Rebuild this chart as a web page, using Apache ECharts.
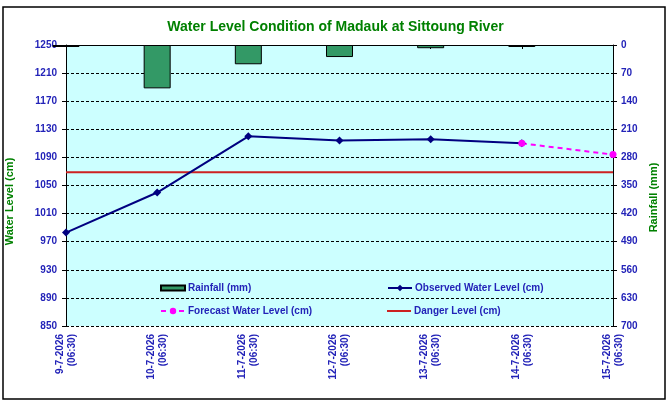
<!DOCTYPE html>
<html>
<head>
<meta charset="utf-8">
<title>Water Level Condition of Madauk at Sittoung River</title>
<script src="https://cdn.jsdelivr.net/npm/echarts@6/dist/echarts.min.js"></script>
<style>
	html, body { margin: 0; padding: 0; background: #ffffff; }
	#wl_chart { width: 671px; height: 405px; }
</style>
</head>
<body>
<div id="wl_chart"></div>
<script>
// chart data
var categories = [ '9-7-2026\n(06:30)', '10-7-2026\n(06:30)', '11-7-2026\n(06:30)',
		'12-7-2026\n(06:30)', '13-7-2026\n(06:30)', '14-7-2026\n(06:30)', '15-7-2026\n(06:30)' ];
var rainfall = [ 5, 108, 48, 30, 8, 5, null ];
var observedLevel = [ 983, 1040, 1120, 1114, 1116, 1110, null ];
var forecastLevel = [ null, null, null, null, null, 1110, 1094 ];
var dangerLevel = [ 1069, 1069, 1069, 1069, 1069, 1069, 1069 ];
var levelTicks = [ 850, 890, 930, 970, 1010, 1050, 1090, 1130, 1170, 1210, 1250 ];

var labelBlue = '#2323b8';
var nameGreen = '#008000';
var fontName = 'Liberation Sans, Arial, sans-serif';

var wlChart = {
	legendItem : function(name, left, top, h, icon) {
		var item = {
			data : [ name ],
			left : left,
			top : top,
			itemWidth : 24,
			itemHeight : h,
			itemGap : 0,
			selectedMode : false,
			textStyle : {
				color : labelBlue,
				fontWeight : 'bold',
				fontSize : 10,
				fontFamily : fontName,
				padding : [ 0, 0, 0, -2 ]
			}
		};
		if (icon) {
			item.icon = icon;
		}
		return item;
	},

	build : function() {
		var chart = echarts.init(document.getElementById('wl_chart'), null, {
			renderer : 'canvas'
		});
		chart.setOption({
			backgroundColor : '#ffffff',
			animation : false,
			title : {
				text : 'Water Level Condition of Madauk at Sittoung River',
				left : 'center',
				top : 15,
				textStyle : {
					color : nameGreen,
					fontSize : 14,
					fontWeight : 'bold',
					fontFamily : fontName
				}
			},
			legend : [
				this.legendItem('Rainfall (mm)', 155, 278, 5, 'rect'),
				this.legendItem('Observed Water Level (cm)', 382, 278, 8),
				this.legendItem('Forecast Water Level (cm)', 155, 301, 8),
				this.legendItem('Danger Level (cm)', 382, 301, 2, 'rect')
			],
			grid : {
				left : 66,
				right : 58,
				top : 45,
				bottom : 79,
				outerBoundsMode : 'none',
				containLabel : false,
				show : true,
				backgroundColor : '#ccffff',
				borderWidth : 0
			},
			xAxis : {
				type : 'category',
				data : categories,
				boundaryGap : false,
				axisLine : {
					lineStyle : { color : '#000000', width : 1 }
				},
				axisTick : {
					show : true,
					length : 4,
					lineStyle : { color : '#000000' }
				},
				axisLabel : {
					rotate : 90,
					margin : 8,
					interval : 0,
					color : labelBlue,
					fontSize : 10,
					fontWeight : 'bold',
					fontFamily : fontName,
					lineHeight : 12
				},
				splitLine : { show : false }
			},
			yAxis : [ {
				// water level (left)
				type : 'value',
				position : 'left',
				min : 850,
				max : 1250,
				name : 'Water Level (cm)',
				nameLocation : 'middle',
				nameRotate : 90,
				nameGap : 51,
				nameTextStyle : {
					color : nameGreen,
					fontWeight : 'bold',
					fontSize : 11,
					fontFamily : fontName,
					padding : [ 0, 32, 0, 0 ]
				},
				axisLine : {
					show : true,
					lineStyle : { color : '#000000' }
				},
				axisTick : {
					show : true,
					length : 4,
					customValues : levelTicks,
					lineStyle : { color : '#000000' }
				},
				axisLabel : {
					customValues : levelTicks,
					margin : 9,
					color : labelBlue,
					fontSize : 10,
					fontWeight : 'bold',
					fontFamily : fontName,
					formatter : function(v) {
						return String(v);
					}
				},
				splitLine : { show : false }
			}, {
				// rainfall (right, hanging from top)
				type : 'value',
				position : 'right',
				inverse : true,
				min : 0,
				max : 700,
				interval : 70,
				name : 'Rainfall (mm)',
				nameLocation : 'middle',
				nameRotate : 90,
				nameGap : 33,
				nameTextStyle : {
					color : nameGreen,
					fontWeight : 'bold',
					fontSize : 11,
					fontFamily : fontName,
					padding : [ 0, 24, 0, 0 ]
				},
				axisLine : {
					show : true,
					lineStyle : { color : '#000000' }
				},
				axisTick : {
					show : true,
					length : 4,
					lineStyle : { color : '#000000' }
				},
				axisLabel : {
					margin : 8,
					color : labelBlue,
					fontSize : 10,
					fontWeight : 'bold',
					fontFamily : fontName
				},
				splitLine : {
					show : true,
					lineStyle : { color : '#000000', type : [ 3, 2 ], width : 1 }
				}
			} ],
			series : [ {
				name : 'Rainfall (mm)',
				type : 'bar',
				yAxisIndex : 1,
				barWidth : 27,
				clip : true,
				itemStyle : {
					color : '#339966',
					borderColor : '#000000',
					borderWidth : 1
				},
				data : rainfall
			}, {
				name : 'Danger Level (cm)',
				type : 'line',
				yAxisIndex : 0,
				symbol : 'none',
				lineStyle : { color : '#cc2222', width : 2 },
				itemStyle : { color : '#cc2222' },
				data : dangerLevel
			}, {
				name : 'Observed Water Level (cm)',
				type : 'line',
				yAxisIndex : 0,
				symbol : 'diamond',
				symbolSize : 8,
				lineStyle : { color : '#000080', width : 2 },
				itemStyle : { color : '#000080' },
				data : observedLevel
			}, {
				name : 'Forecast Water Level (cm)',
				type : 'line',
				yAxisIndex : 0,
				symbol : 'circle',
				symbolSize : 7,
				lineStyle : { color : '#ff00ff', width : 2, type : [ 5, 4 ] },
				itemStyle : { color : '#ff00ff' },
				data : forecastLevel
			} ],
			graphic : [ {
				// outer chart border
				type : 'rect',
				shape : { x : 3, y : 7, width : 662, height : 392 },
				style : { fill : 'none', stroke : '#000000', lineWidth : 1.5 },
				silent : true
			} ]
		});
		return chart;
	}
};

var levelChart = wlChart.build();

window.addEventListener('resize', function() {
	try {
		levelChart.resize();
	} catch (e) {
	}
});
</script>
</body>
</html>
